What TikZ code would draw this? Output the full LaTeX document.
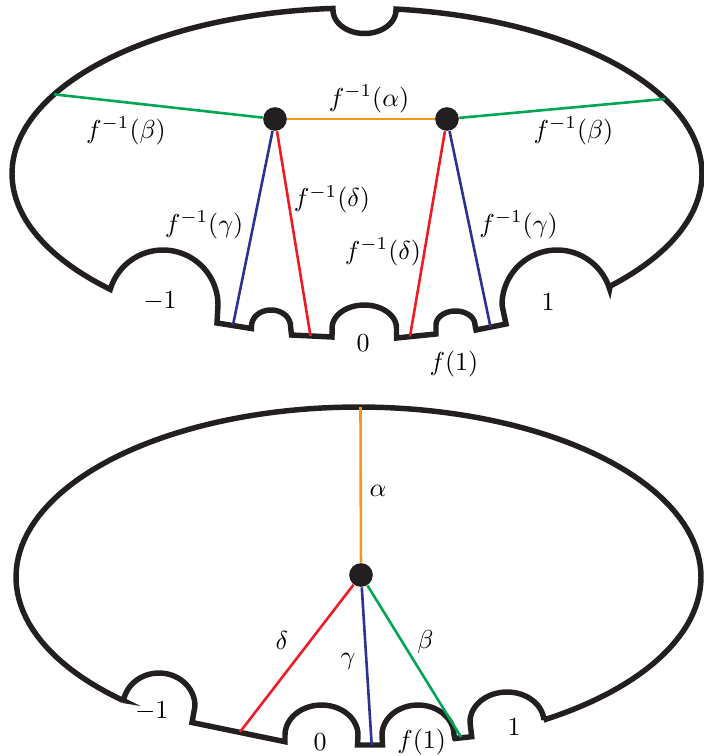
\documentclass[tikz,border=0pt]{standalone}
\usepackage{tikz}
\definecolor{cblack}{RGB}{35,31,32}
\definecolor{cgreen}{RGB}{0,166,81}
\definecolor{corange}{RGB}{247,148,29}
\definecolor{cred}{RGB}{237,28,36}
\definecolor{cblue}{RGB}{46,49,146}
\begin{document}
\begin{tikzpicture}[x=0.385pt,y=-0.385pt,
  outline/.style={draw=cblack,line width=2.1pt,line join=miter},
  edge/.style={line width=1pt},
  dot/.style={circle,fill=cblack,inner sep=0pt,minimum size=9.1pt},
  lab/.style={inner sep=0pt}]
\useasboundingbox (0,0) rectangle (704,756);

% ---------- top figure ----------
\draw[outline] (108,288.2)
 -- plot[domain=136.2:266,samples=90,variable=\t] ({357+345*cos(\t)},{173.6+165.6*sin(\t)})
 -- plot[domain=180:0,samples=30,variable=\t] ({364.5+31.5*cos(\t)},{10+23.5*sin(\t)})
 -- plot[domain=276.5:402.8,samples=90,variable=\t] ({357+345*cos(\t)},{173.6+165.6*sin(\t)})
 -- plot[domain=343:180,samples=40,variable=\t] ({557+55*cos(\t)},{305+55*sin(\t)})
 -- (506,324) -- (476,330)
 -- plot[domain=360:180,samples=30,variable=\t] ({455.5+19.5*cos(\t)},{325+14*sin(\t)})
 -- (436,334) -- (396.5,338)
 -- plot[domain=360:180,samples=30,variable=\t] ({364.3+32.2*cos(\t)},{328+23*sin(\t)})
 -- (332,337) -- (291.5,335)
 -- plot[domain=360:180,samples=30,variable=\t] ({271+19.5*cos(\t)},{326+16*sin(\t)})
 -- (251.5,328.5) -- (217,323)
 -- plot[domain=360:197,samples=40,variable=\t] ({163+55*cos(\t)},{305+55*sin(\t)})
 -- cycle;

\node[dot] (p1) at (275,119) {};
\node[dot] (p2) at (447,119) {};
\coordinate (gl) at ({357+345*cos(208.6)},{173.6+165.6*sin(208.6)});
\coordinate (gr) at ({357+345*cos(333.2)},{173.6+165.6*sin(333.2)});
\coordinate (bl) at (233,325);
\coordinate (rl) at (310.5,336);
\coordinate (rr) at (410,336.5);
\coordinate (br) at (490.5,327);
\draw[edge,cgreen] (p1) -- (gl);
\draw[edge,cgreen] (p2) -- (gr);
\draw[edge,corange] (p1) -- (p2);
\draw[edge,cblue] (p1) -- (bl);
\draw[edge,cblue] (p2) -- (br);
\draw[edge,cred] (p1) -- (rl);
\draw[edge,cred] (p2) -- (rr);

\node[lab] (la)  at (369,99)    {$f^{-1}(\alpha)$};
\node[lab] (lbl) at (126,131)   {$f^{-1}(\beta)$};
\node[lab] (lbr) at (573.5,131) {$f^{-1}(\beta)$};
\node[lab] (ldl) at (332,199.5) {$f^{-1}(\delta)$};
\node[lab] (lgl) at (204,225)   {$f^{-1}(\gamma)$};
\node[lab] (ldr) at (383,252)   {$f^{-1}(\delta)$};
\node[lab] (lgr) at (518.5,225) {$f^{-1}(\gamma)$};
\node[lab] (lm1) at (160,301)   {$-1$};
\node[lab] (lp1) at (548,301.7) {$1$};
\node[lab] (l0)  at (363,343)   {$0$};
\node[lab] (lf1) at (454,364)   {$f(1)$};

% ---------- bottom figure ----------
\draw[outline] (122.7,700.3)
 -- plot[domain=133.5:417.3,samples=140,variable=\t] ({358.5+342.5*cos(\t)},{577+170*sin(\t)})
 -- plot[domain=356:180,samples=30,variable=\t] ({507+37*cos(\t)},{722+30*sin(\t)})
 -- (471.7,736.7) -- (455,738.5)
 -- plot[domain=360:180,samples=30,variable=\t] ({418+36*cos(\t)},{735+30*sin(\t)})
 -- (382.5,745) -- (357.5,745)
 -- plot[domain=360:180,samples=30,variable=\t] ({321.5+36.5*cos(\t)},{735+30*sin(\t)})
 -- (285,741.7) -- (192,722.5)
 -- plot[domain=360:190,samples=30,variable=\t] ({159+36*cos(\t)},{706+33*sin(\t)})
 -- cycle;

\node[dot] (p3) at (361,575) {};
\coordinate (ta) at (360.5,407);
\coordinate (td) at (240,732);
\coordinate (tg) at (371.7,745);
\coordinate (tb) at (461,737);
\draw[edge,corange] (p3) -- (ta);
\draw[edge,cred] (p3) -- (td);
\draw[edge,cblue] (p3) -- (tg);
\draw[edge,cgreen] (p3) -- (tb);

\node[lab] (ma)  at (378,491)     {$\alpha$};
\node[lab] (md)  at (282,640)     {$\delta$};
\node[lab] (mg)  at (348,661)     {$\gamma$};
\node[lab] (mb)  at (425.5,641.5) {$\beta$};
\node[lab] (mm1) at (151.7,711.7) {$-1$};
\node[lab] (m0)  at (320,741.7)   {$0$};
\node[lab] (mf1) at (421.7,742)   {$f(1)$};
\node[lab] (mp1) at (514,727.5)   {$1$};
\end{tikzpicture}
\end{document}
